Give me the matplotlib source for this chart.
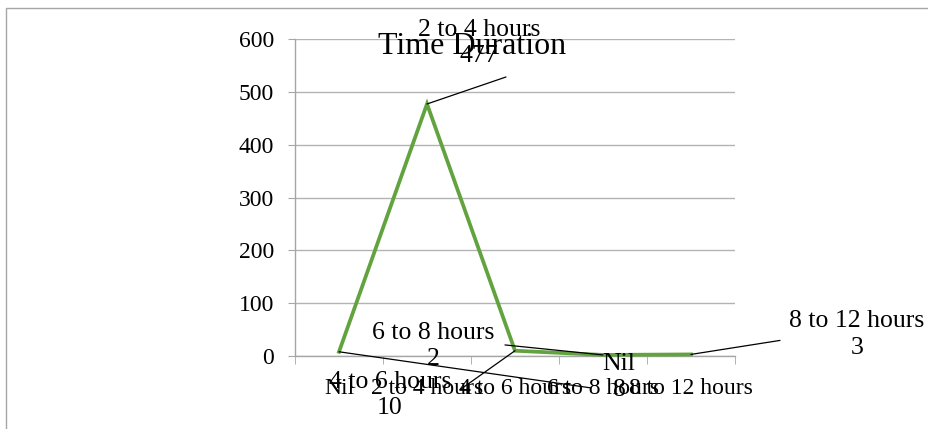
import matplotlib
matplotlib.use("Agg")
import matplotlib.pyplot as plt
from matplotlib.patches import Rectangle

plt.rcParams['font.family'] = ['Liberation Serif', 'DejaVu Serif']

# data
categories = ['Nil', '2 to 4 hours', '4 to 6 hours', '6 to 8 hours', '8 to 12 hours']
counts = [8, 477, 10, 2, 3]
y_ticks = [0, 100, 200, 300, 400, 500, 600]

# label placement (pixels from the point): text centre, end of leader line
label_text_offsets = [(280, -25), (52, 61), (-125, -44), (-170, 9), (166, 20)]
label_line_offsets = [(251, -36), (79, 27), (-55, -39), (-98, 10), (89, 14)]

W, H = 929, 429
fig = plt.figure(figsize=(W / 100, H / 100), dpi=100)
ax = fig.add_axes([295 / W, 1 - 356 / H, (735 - 295) / W, (356 - 39) / H])

# outer chart border (only left and top visible in the reference)
fig.patches.append(Rectangle((6 / W, -0.05), 1.2, 1 - 8 / H + 0.05, transform=fig.transFigure,
                             fill=False, edgecolor='#a6a6a6', linewidth=1.0))

x = list(range(len(categories)))
ax.plot(x, counts, color='#62a33f', linewidth=2.7, solid_joinstyle='miter', zorder=3, clip_on=False)

ax.set_xlim(-0.5, len(categories) - 0.5)
ax.set_ylim(0, 600)
ax.set_yticks(y_ticks)
ax.set_xticks(x)
ax.set_xticklabels(categories)
ax.set_xticks([i - 0.5 for i in range(len(categories) + 1)], minor=True)

ax.grid(axis='y', color='#b3b3b3', linewidth=1.0)
ax.set_axisbelow(True)
for s in ['top', 'right']:
    ax.spines[s].set_visible(False)
for s in ['left', 'bottom']:
    ax.spines[s].set_color('#a6a6a6')
    ax.spines[s].set_linewidth(1.0)

ax.tick_params(axis='y', direction='out', length=5, color='#a6a6a6', pad=10, labelsize=17)
ax.tick_params(axis='x', which='major', length=0, pad=16, labelsize=17)
ax.tick_params(axis='x', which='minor', direction='out', length=6, color='#a6a6a6')

# data labels with leader lines
for i, (cat, val) in enumerate(zip(categories, counts)):
    tx, ty = label_text_offsets[i]
    lx, ly = label_line_offsets[i]
    ax.annotate('', xy=(i, val), xytext=(lx, ly), textcoords='offset pixels',
                arrowprops=dict(arrowstyle='-', color='black', linewidth=0.9,
                                shrinkA=0, shrinkB=0), annotation_clip=False)
    ax.annotate('%s\n%d' % (cat, val), xy=(i, val), xytext=(tx, ty), textcoords='offset pixels',
                ha='center', va='center', multialignment='center', fontsize=18.5,
                linespacing=1.25, annotation_clip=False, zorder=4)

fig.text(472 / W, 1 - 47 / H, 'Time Duration', ha='center', va='center', fontsize=23)

fig.savefig('out.png', dpi=100)
